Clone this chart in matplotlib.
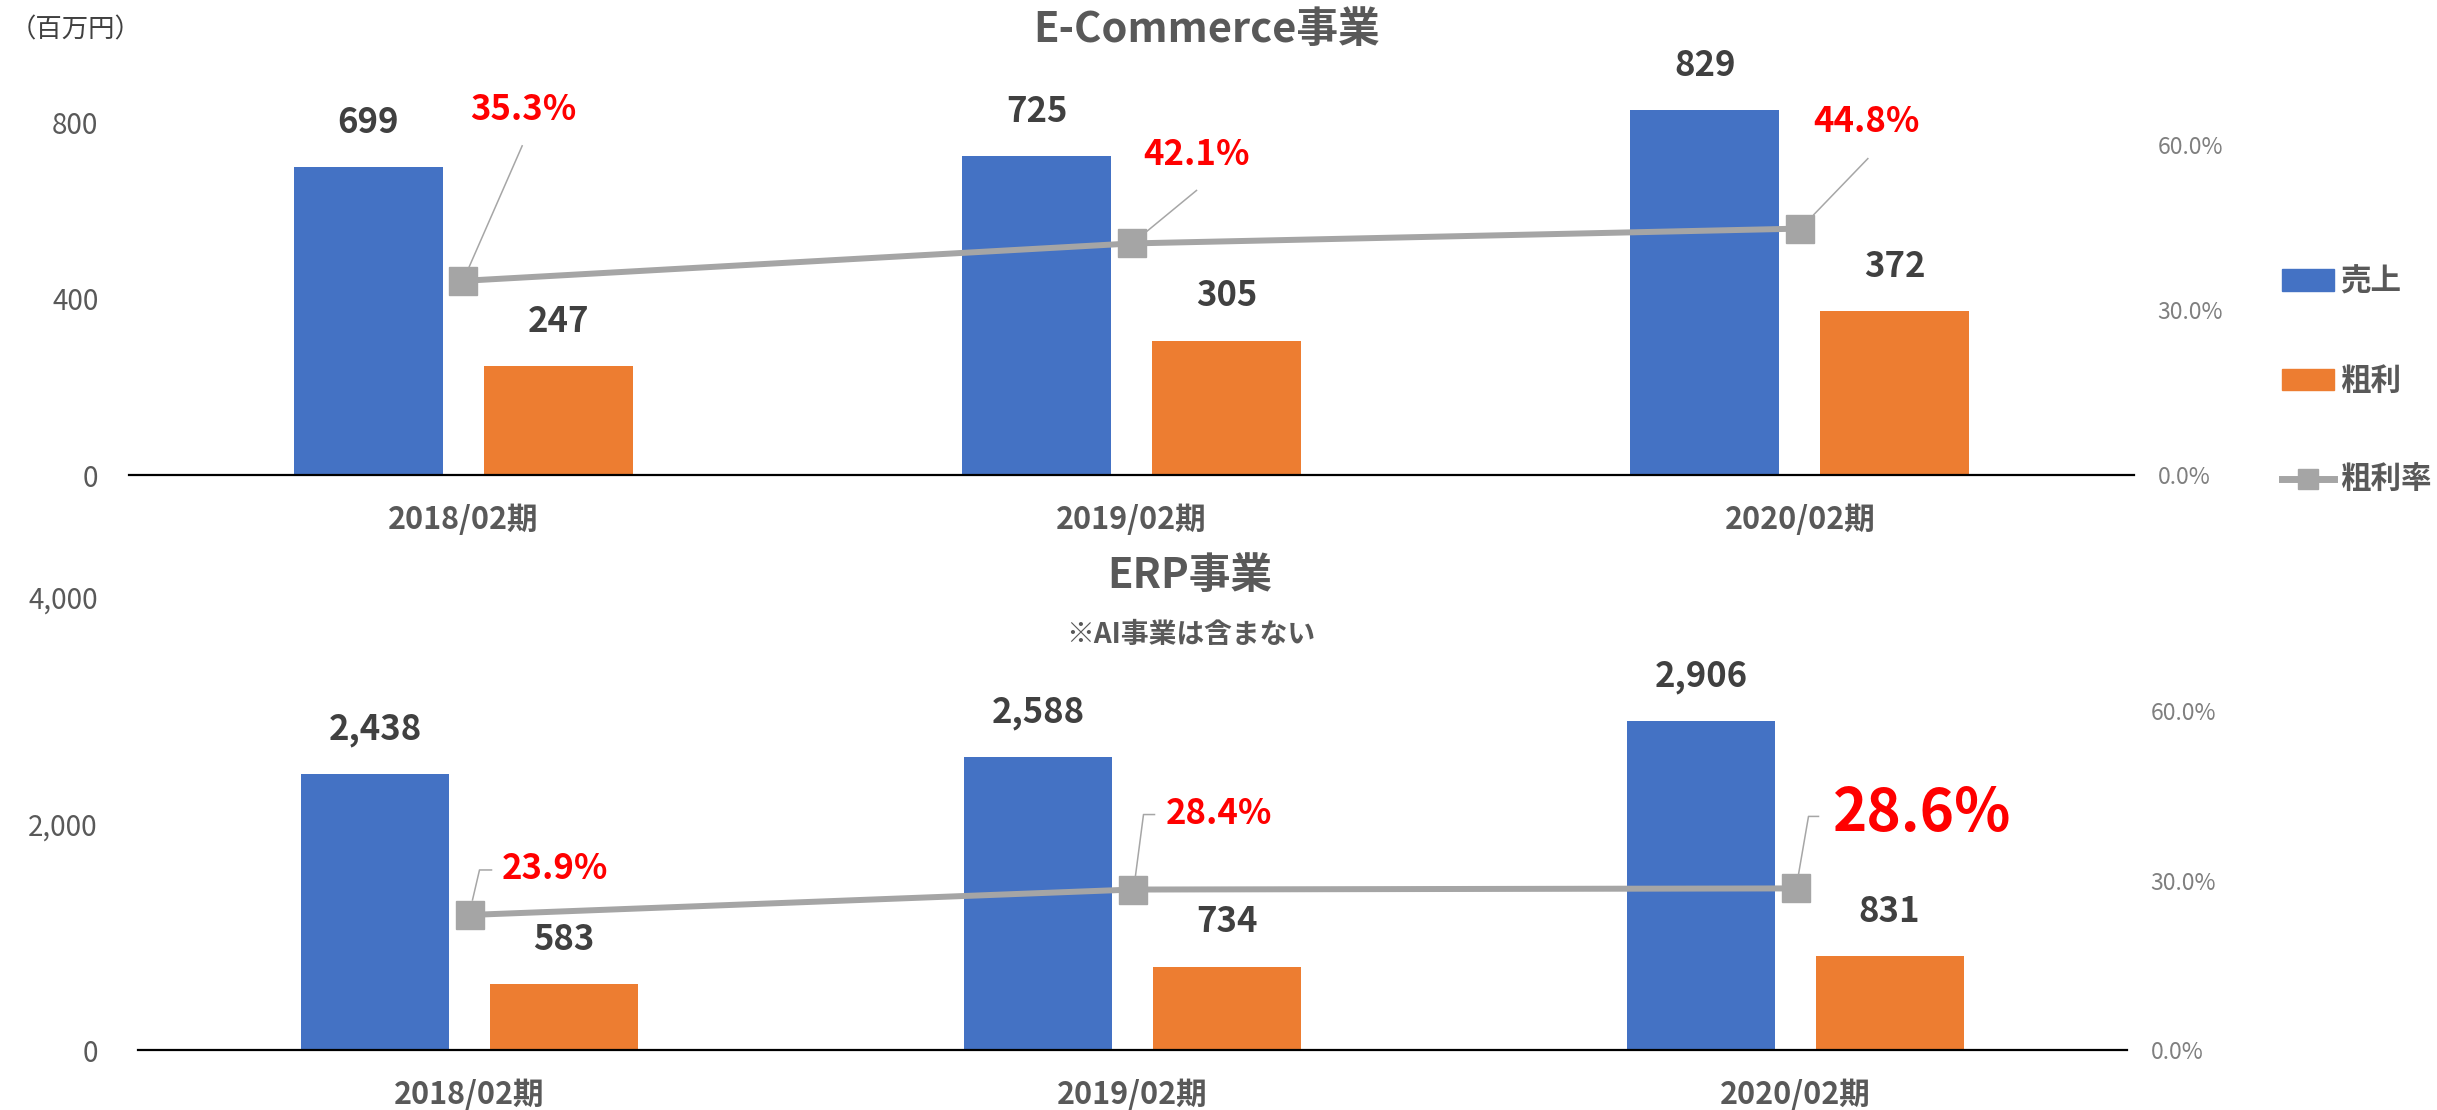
import numpy as np
import matplotlib
matplotlib.use('Agg')
import matplotlib.pyplot as plt
from matplotlib.lines import Line2D
from matplotlib.patches import Patch
from matplotlib.transforms import IdentityTransform
from matplotlib.ticker import FuncFormatter

plt.rcParams['font.family'] = ['Noto Sans CJK JP', 'DejaVu Sans']

periods = ['2018/02期', '2019/02期', '2020/02期']

# E-Commerce事業 (百万円, %)
ec_sales = [699, 725, 829]
ec_profit = [247, 305, 372]
ec_rate = [35.3, 42.1, 44.8]

# ERP事業
erp_sales = [2438, 2588, 2906]
erp_profit = [583, 734, 831]
erp_rate = [23.9, 28.4, 28.6]

BLUE = '#4472C4'
ORANGE = '#ED7D31'
GREY = '#A5A5A5'
TXT = '#595959'
VAL = '#404040'

W, H = 2437, 1110
fig = plt.figure(figsize=(W / 100, H / 100), dpi=100)


def px_axes(left, right, bottom, top):
    # pixel box (image coords, y down) -> figure fraction
    return fig.add_axes([left / W, 1 - bottom / H, (right - left) / W, (bottom - top) / H])


def panel(ax, sales, profit, rate, ylim, rlim, yticks, ypad, label_off, leaders, big=None):
    x = np.arange(len(periods))
    ax.bar(x - 0.142, sales, 0.223, color=BLUE, zorder=2)
    ax.bar(x + 0.142, profit, 0.223, color=ORANGE, zorder=2)
    ax.set_xlim(-0.5, len(periods) - 0.5)
    ax.set_ylim(0, ylim)
    ax.set_yticks(yticks)
    ax.yaxis.set_major_formatter(FuncFormatter(lambda v, p: f'{int(v):,}'))
    ax.set_xticks(x)
    ax.set_xticklabels(periods, fontsize=22, fontweight='bold', color=TXT)
    ax.tick_params(axis='x', length=0, pad=21)
    ax.tick_params(axis='y', length=0, pad=ypad, labelsize=20, labelcolor=TXT)
    for s in ['top', 'left', 'right']:
        ax.spines[s].set_visible(False)
    ax.spines['bottom'].set_color('black')
    ax.spines['bottom'].set_linewidth(1.6)

    for xs, vals in [(x - 0.142, sales), (x + 0.142, profit)]:
        for xi, v in zip(xs, vals):
            ax.annotate(f'{v:,}', xy=(xi, v), xytext=(0, 45), textcoords='offset pixels',
                        ha='center', va='center', fontsize=25, fontweight='bold', color=VAL)

    ax2 = ax.twinx()
    ax2.plot(x, rate, color=GREY, lw=4.3, marker='s', ms=20, mfc=GREY, mec=GREY, zorder=3)
    ax2.set_ylim(0, rlim)
    ax2.set_yticks([0, 30, 60])
    ax2.yaxis.set_major_formatter(FuncFormatter(lambda v, p: f'{v:.1f}%'))
    ax2.tick_params(axis='y', length=0, pad=17, labelsize=16.5, labelcolor='#7F7F7F')
    for s in ax2.spines.values():
        s.set_visible(False)

    for i, r in enumerate(rate):
        dx, dy = label_off[i]
        size = 42 if big == i else 25
        ax2.annotate(f'{r:.1f}%', xy=(i, r), xytext=(dx, dy), textcoords='offset pixels',
                     ha='center', va='center', fontsize=size, fontweight='bold', color='#FF0000')
        px, py = ax2.transData.transform((i, r))
        pts = leaders[i]
        fig.add_artist(Line2D([px + a for a, b in pts], [py + b for a, b in pts],
                              transform=IdentityTransform(), color='#A6A6A6', lw=1.1, zorder=1))
    return ax2


# top panel: E-Commerce
ax_top = px_axes(129, 2134, 475, 50)
panel(ax_top, ec_sales, ec_profit, ec_rate, 425 / 0.440, 425 / 5.5, [0, 400, 800], 22,
      [(60, 171), (65, 89), (67, 107)],
      [[(59, 135), (6, 14)], [(65, 53), (14, 11)], [(68, 70), (14, 14)]])

# bottom panel: ERP
ax_bot = px_axes(138, 2127, 1050, 590)
panel(ax_bot, erp_sales, erp_profit, erp_rate, 460 / 0.1131, 460 / 5.65, [0, 2000, 4000], 29,
      [(85, 46), (86, 76), (127, 74)],
      [[(22, 45), (10, 45), (3, 15)], [(22, 75), (11, 75), (3, 14)], [(23, 72), (13, 72), (3, 14)]],
      big=2)

fig.text(1207 / W, 1 - 30 / H, 'E-Commerce事業', ha='center', va='center',
         fontsize=30, fontweight='bold', color=TXT)
fig.text(1190 / W, 1 - 576 / H, 'ERP事業', ha='center', va='center',
         fontsize=30, fontweight='bold', color=TXT)
fig.text(1191 / W, 1 - 635 / H, '※AI事業は含まない', ha='center', va='center',
         fontsize=20, fontweight='bold', color=TXT)
fig.text(10 / W, 1 - 30 / H, '（百万円）', ha='left', va='center', fontsize=19, color=VAL)

handles = [Patch(color=BLUE), Patch(color=ORANGE),
           Line2D([], [], color=GREY, lw=5, marker='s', ms=15, mfc=GREY, mec=GREY)]
fig.legend(handles, ['売上', '粗利', '粗利率'], loc='center left',
           bbox_to_anchor=(2282 / W, 1 - 381 / H), frameon=False,
           prop={'size': 22, 'weight': 'bold'}, labelcolor=TXT,
           labelspacing=2.2, handlelength=1.7, handletextpad=0.2,
           borderpad=0, borderaxespad=0)

fig.savefig('out.png', dpi=100, facecolor='white')
